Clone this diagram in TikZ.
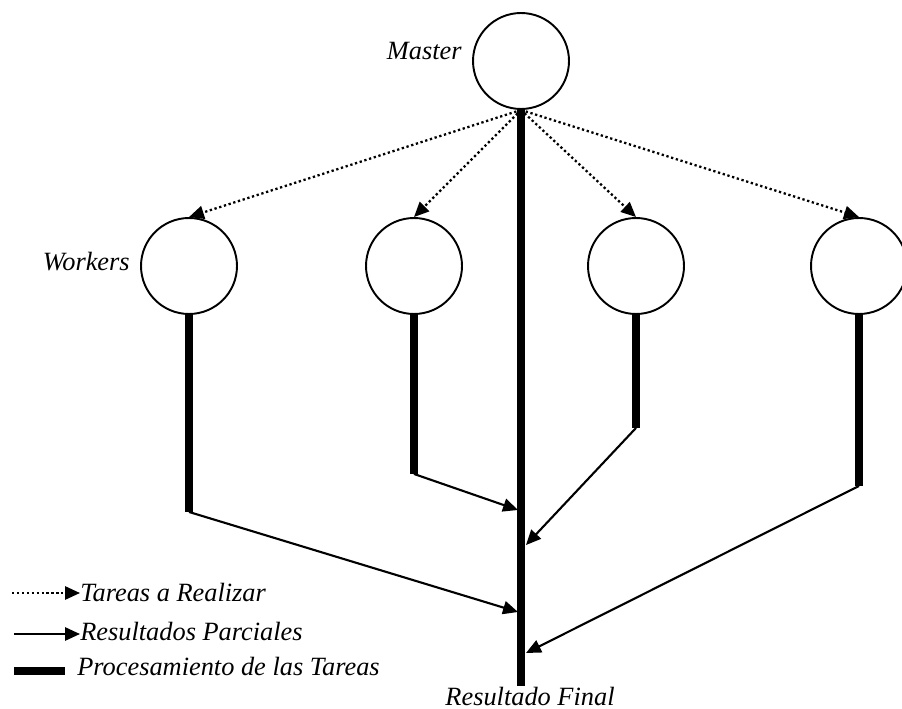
\documentclass[tikz,border=0pt]{standalone}
\usepackage{fontspec}
\setmainfont{Liberation Serif}[ItalicFont={Liberation Serif Italic}]
\usetikzlibrary{arrows.meta}

\begin{document}
\begin{tikzpicture}[x=0.02cm, y=-0.02cm, line join=round, >={Triangle[length=8.5pt,width=7.5pt]},
			font=\fontsize{15}{18}\selectfont\itshape,
			nodo/.style={circle, draw, line width=1.1pt, minimum size=1.92cm, inner sep=0pt},
			proc/.style={line width=4.5pt},
			tarea/.style={->, line width=1.3pt, dash pattern=on 1.3pt off 1.5pt},
			parcial/.style={->, line width=1.2pt},
			txt/.style={inner sep=0pt}
			]
			\useasboundingbox (0,0) rectangle (902,709);
			\node[nodo] (M) at (521,61) {};
			\node[txt, anchor=base east] (lm) at (462,60) {Master};
			\foreach \n/\x in {1/189,2/414,3/636,4/859}
			\node[nodo] (w\n) at (\x,266) {};
			\node[txt, anchor=base east] (lw) at (130,271) {Workers};
			\foreach \n in {1,...,4}
			\draw[tarea] (M.south) -- (w\n.north);
			\foreach \n/\l in {1/197,2/159,3/113,4/171}
			\draw[proc] (w\n.south) -- ++(0,\l) coordinate (b\n);
			\draw[proc] (M.south) -- (521,686) coordinate (fin);
			\node[txt, anchor=base] (lf) at (530,705) {Resultado Final};
			\foreach \n/\x/\y in {1/518/612,2/518/510,3/526/545,4/526/653}
			{
				\coordinate (r\n) at (\x,\y);
				\draw[parcial] (b\n) -- (r\n);
			}
			\node[txt, anchor=base west] (l1) at (80,601) {Tareas a Realizar};
			\node[txt, anchor=base west] (l2) at (80,640) {Resultados Parciales};
			\node[txt, anchor=base west] (l3) at (77,675) {Procesamiento de las Tareas};
			\coordinate (a1) at (12,593);
			\coordinate (a2) at (14,634);
			\coordinate (a3) at (14,671);
			\draw[tarea] (a1) -- (a1 -| l1.west);
			\draw[parcial] (a2) -- (a2 -| l2.west);
			\draw[proc] (a3) -- ++(51,0);
\end{tikzpicture}
\end{document}
